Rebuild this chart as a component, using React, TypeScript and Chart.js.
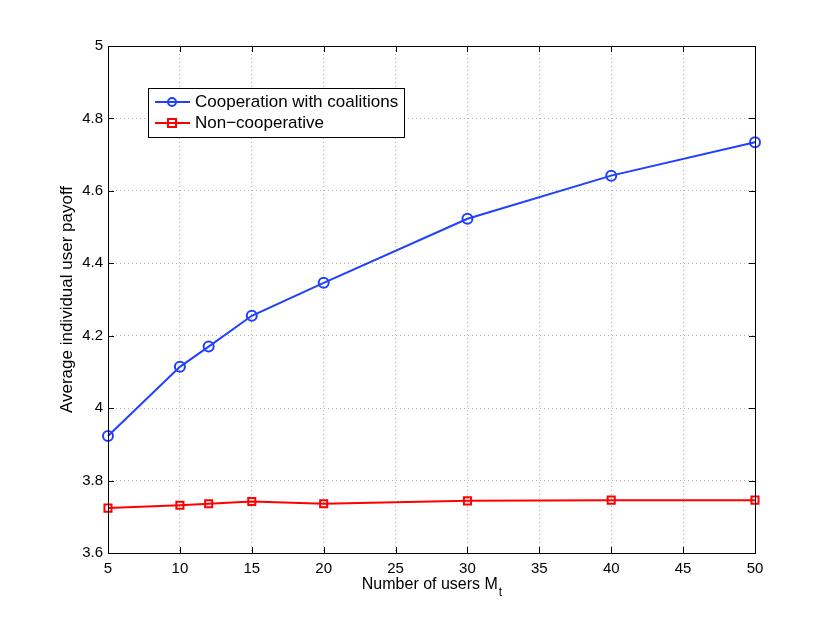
import React, { useRef, useEffect } from 'react';
import { Chart, registerables } from 'chart.js';

Chart.register(...registerables);

const users = [5, 10, 12, 15, 20, 30, 40, 50];
const coopPayoff = [3.923, 4.114, 4.17, 4.255, 4.346, 4.523, 4.642, 4.734];
const nonCoopPayoff = [3.724, 3.732, 3.736, 3.742, 3.736, 3.744, 3.746, 3.746];
const seriesNames = ['Cooperation with coalitions', 'Non\u2212cooperative'];

const BLUE = 'rgb(32,64,255)';
const RED = 'rgb(255,0,0)';
const FONT = '"Liberation Sans", Arial, sans-serif';

// box, inward ticks, axis titles and the legend, drawn MATLAB style
const matlabFrame = {
  id: 'matlabFrame',
  afterDraw(chart: any) {
    const { ctx, chartArea: a, scales } = chart;
    ctx.save();
    ctx.strokeStyle = '#000';
    ctx.lineWidth = 1;
    ctx.strokeRect(a.left + 0.5, a.top + 0.5, a.right - a.left, a.bottom - a.top);
    const tl = 6;
    ctx.beginPath();
    scales.x.ticks.forEach((t: any) => {
      const px = Math.round(scales.x.getPixelForValue(t.value)) + 0.5;
      ctx.moveTo(px, a.bottom);
      ctx.lineTo(px, a.bottom - tl);
      ctx.moveTo(px, a.top);
      ctx.lineTo(px, a.top + tl);
    });
    scales.y.ticks.forEach((t: any) => {
      const py = Math.round(scales.y.getPixelForValue(t.value)) + 0.5;
      ctx.moveTo(a.left, py);
      ctx.lineTo(a.left + tl, py);
      ctx.moveTo(a.right, py);
      ctx.lineTo(a.right - tl, py);
    });
    ctx.stroke();

    // axis titles
    ctx.fillStyle = '#000';
    ctx.font = `16px ${FONT}`;
    ctx.textBaseline = 'middle';
    const main = 'Number of users M';
    const w = ctx.measureText(main).width;
    ctx.font = `12px ${FONT}`;
    const ws = ctx.measureText('t').width;
    const cx = (a.left + a.right) / 2;
    const x0 = cx - (w + ws) / 2;
    ctx.font = `16px ${FONT}`;
    ctx.textAlign = 'left';
    ctx.fillText(main, x0, 585);
    ctx.font = `12px ${FONT}`;
    ctx.fillText('t', x0 + w + 1, 593);

    ctx.font = `17px ${FONT}`;
    ctx.textAlign = 'center';
    ctx.translate(67, (a.top + a.bottom) / 2);
    ctx.rotate(-Math.PI / 2);
    ctx.fillText('Average individual user payoff', 0, 0);
    ctx.restore();

    // legend
    ctx.save();
    const lx = 148, ly = 88, lw = 256, lh = 49;
    ctx.fillStyle = '#fff';
    ctx.fillRect(lx, ly, lw, lh);
    ctx.strokeStyle = '#000';
    ctx.lineWidth = 1;
    ctx.strokeRect(lx + 0.5, ly + 0.5, lw, lh);
    const rows = [
      { y: 102, color: BLUE, marker: 'circle' },
      { y: 123, color: RED, marker: 'rect' },
    ];
    rows.forEach((r, i) => {
      ctx.strokeStyle = r.color;
      ctx.lineWidth = 2;
      ctx.beginPath();
      ctx.moveTo(155, r.y);
      ctx.lineTo(190, r.y);
      ctx.stroke();
      ctx.beginPath();
      if (r.marker === 'circle') {
        ctx.arc(172, r.y, 4, 0, Math.PI * 2);
      } else {
        ctx.rect(168, r.y - 4, 8, 8);
      }
      ctx.stroke();
      ctx.fillStyle = '#000';
      ctx.font = `17px ${FONT}`;
      ctx.textAlign = 'left';
      ctx.textBaseline = 'middle';
      ctx.fillText(seriesNames[i], 195, r.y);
    });
    ctx.restore();
  },
};

export default function App() {
  const chartRef = useRef<HTMLCanvasElement>(null);
  useEffect(() => {
    document.body.style.margin = '0';
    if (!chartRef.current) return;
    const chart = new Chart(chartRef.current, {
      type: 'line',
      data: {
        labels: users,
        datasets: [
          {
            label: seriesNames[0],
            data: users.map((u, i) => ({ x: u, y: coopPayoff[i] })),
            borderColor: BLUE,
            backgroundColor: 'transparent',
            borderWidth: 2,
            pointStyle: 'circle',
            pointRadius: 5,
            pointBorderWidth: 2,
            pointBorderColor: BLUE,
            pointBackgroundColor: 'transparent',
            clip: false,
          },
          {
            label: seriesNames[1],
            data: users.map((u, i) => ({ x: u, y: nonCoopPayoff[i] })),
            borderColor: RED,
            backgroundColor: 'transparent',
            borderWidth: 2,
            pointStyle: 'rect',
            pointRadius: 5,
            pointBorderWidth: 2,
            pointBorderColor: RED,
            pointBackgroundColor: 'transparent',
            clip: false,
          },
        ],
      },
      options: {
        animation: false,
        responsive: false,
        layout: { padding: { left: 0, right: 75, top: 46, bottom: 0 } },
        plugins: { legend: { display: false }, tooltip: { enabled: false } },
        scales: {
          x: {
            type: 'linear',
            min: 5,
            max: 50,
            afterFit: (s: any) => { s.height = 69; },
            ticks: {
              stepSize: 5,
              color: '#000',
              padding: 7,
              maxRotation: 0,
              font: { family: FONT, size: 15 },
            },
            grid: { color: '#b0b0b0', drawTicks: false, lineWidth: 1 },
            border: { display: false, dash: [1, 3] },
          },
          y: {
            min: 3.6,
            max: 5,
            afterFit: (s: any) => { s.width = 108; },
            ticks: {
              stepSize: 0.2,
              color: '#000',
              padding: 5,
              font: { family: FONT, size: 15 },
              callback: (v: any) => String(+Number(v).toFixed(1)),
            },
            grid: { color: '#b0b0b0', drawTicks: false, lineWidth: 1 },
            border: { display: false, dash: [1, 3] },
          },
        },
      },
      plugins: [matlabFrame],
    });
    return () => {
      chart.destroy();
    };
  }, []);

  return <canvas ref={chartRef} width={830} height={622} style={{ display: 'block' }} />;
}
